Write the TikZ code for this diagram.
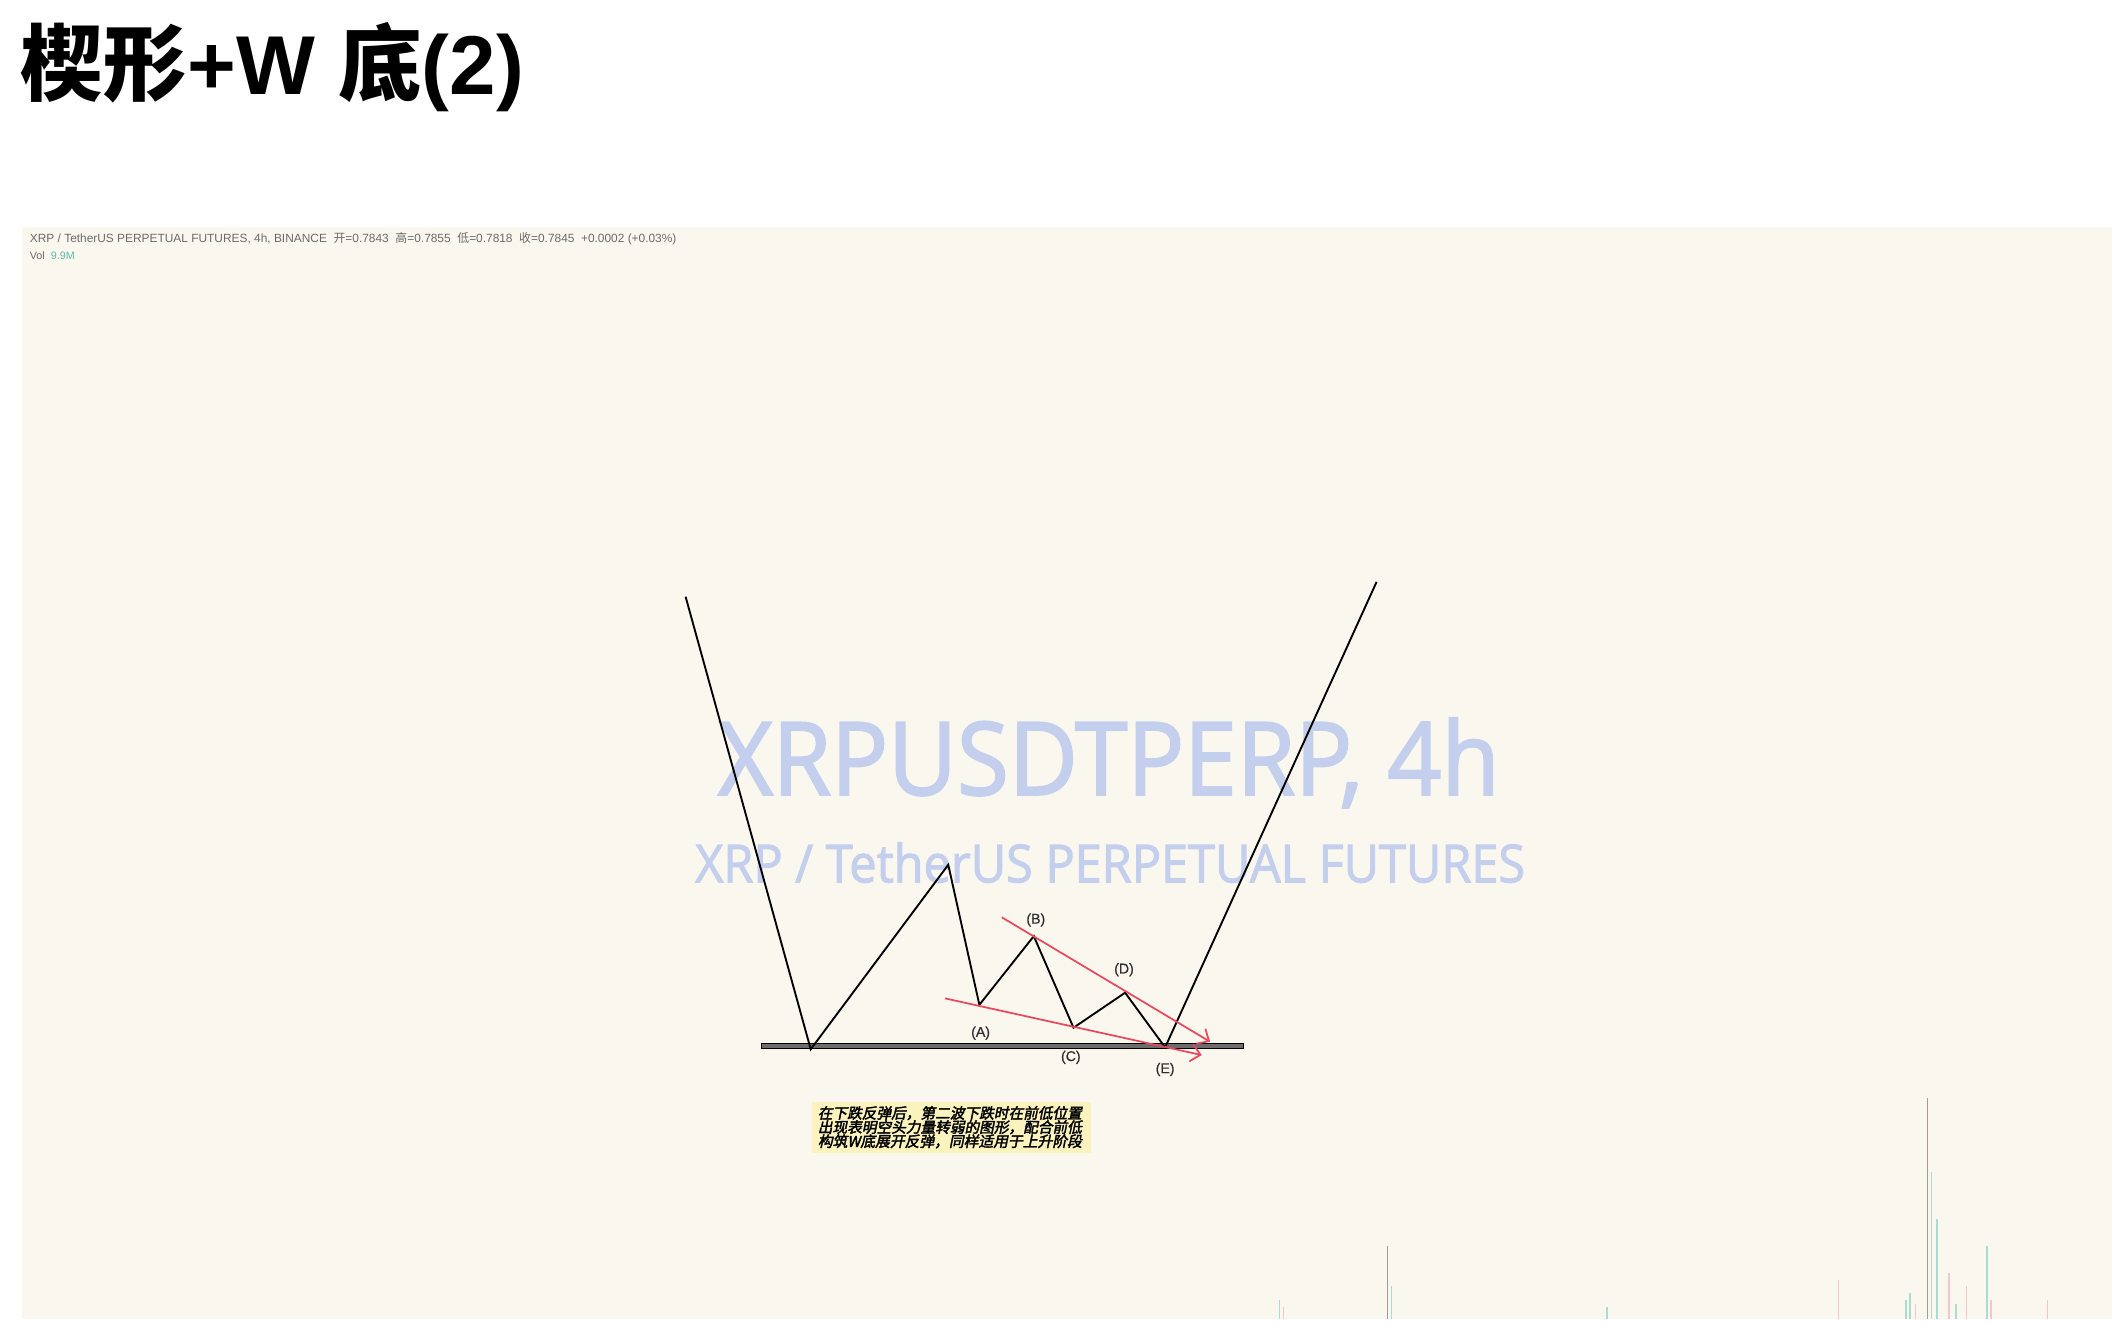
\documentclass[tikz,border=0pt]{standalone}
\usepackage{fontspec}
\usepackage{graphicx}
\usetikzlibrary{arrows.meta}
\setmainfont{Liberation Sans}
\newfontfamily\cjk{Noto Sans CJK SC}
\newfontfamily\cjkit{Noto Sans CJK SC}[FakeSlant=0.2,FakeBold=2.5]
\newfontfamily\wm{Open Sans}[FakeBold=2.2]
\newfontfamily\lblfont{Liberation Sans}[FakeBold=0.6]
\definecolor{chartbg}{HTML}{FAF8EE}
\definecolor{wmblue}{RGB}{196,207,238}
\definecolor{redl}{HTML}{E9485E}
\definecolor{notebg}{HTML}{FBF3BE}
\definecolor{hdrgray}{HTML}{6B6B6B}
\definecolor{volteal}{HTML}{A8DDD4}
\definecolor{volpink}{HTML}{F4C6CA}
\definecolor{voldark}{HTML}{A59A96}
\definecolor{lblgray}{HTML}{2E2E2E}
\tikzset{
  wave/.style={draw=black, line width=1.4pt, line join=miter},
  trend/.style={draw=redl, line width=1.3pt, -{Straight Barb[length=7pt,width=13pt]}},
  lbl/.style={font=\lblfont\fontsize{10.5}{10.5}\selectfont, text=lblgray, inner sep=0pt},
  vbar/.style={line width=1.1pt},
}
\begin{document}
\begin{tikzpicture}[x=1pt,y=-1pt]
\useasboundingbox (0,0) rectangle (1568,983);
\fill[white] (0,0) rectangle (1568,983);
\fill[chartbg] (16,168.5) rectangle (1568,979);

% title
\node[anchor=base west, inner sep=0pt] (title) at (15,70)
  {\fontsize{62}{62}\selectfont\bfseries{\cjk 楔形}+W {\cjk 底}(2)};

% header
\node[anchor=west, inner sep=0pt, text=hdrgray] (hdr1) at (22,177)
  {\resizebox{480pt}{!}{\fontsize{8}{8}\selectfont XRP / TetherUS PERPETUAL FUTURES, 4h, BINANCE\ \ {\cjk 开}=0.7843\ \ {\cjk 高}=0.7855\ \ {\cjk 低}=0.7818\ \ {\cjk 收}=0.7845\ \ +0.0002 (+0.03\%)}};
\node[anchor=west, inner sep=0pt, text=hdrgray] (hdr2) at (22,190)
  {\fontsize{8}{8}\selectfont Vol\ \ \textcolor{volteal!60!teal}{9.9M}};

% watermark
\node[anchor=base west, inner sep=0pt, text=wmblue] (wm1) at (533,590)
  {\resizebox{580pt}{57pt}{\wm XRPUSDTPERP, 4h}};
\node[anchor=base west, inner sep=0pt, text=wmblue] (wm2) at (516,655)
  {\resizebox{616pt}{29.5pt}{\wm XRP / TetherUS PERPETUAL FUTURES}};

% volume bars
\foreach \x/\t/\c in {950/965/volteal, 953/970/volpink, 1030/925/voldark, 1033/955/volteal,
  1193/970/volteal, 1365/950/volpink, 1415/965/volteal, 1418/960/volteal, 1422/968/volpink,
  1431/815/voldark, 1434/870/volteal, 1438/905/volteal, 1447/945/volpink, 1452/968/volteal,
  1460/955/volpink, 1475/925/volteal, 1478/965/volpink, 1520/965/volpink}
  \draw[vbar, draw=\c] (\x,979) -- (\x,\t);

% support bar
\node[draw=black, fill=gray!85!black, line width=0.7pt, minimum width=358pt, minimum height=4.2pt, inner sep=0pt] (bar) at (744.5,776.5) {};

% wave
\coordinate (L0) at (509,443);
\coordinate (W1) at (601.9,779);
\coordinate (P) at (704,642);
\coordinate (A) at (727.1,746);
\coordinate (B) at (767.5,695);
\coordinate (C) at (797,763);
\coordinate (D) at (835.3,737);
\coordinate (E) at (865,777.6);
\coordinate (R0) at (1022,432);
\draw[wave] (L0) -- (W1) -- (P) -- (A) -- (B) -- (C) -- (D) -- (E) -- (R0);

% trend lines
\coordinate (U0) at (743.7,681);
\coordinate (U1) at (898.4,773.4);
\coordinate (V0) at (701.6,741.2);
\coordinate (V1) at (892.2,783.3);
\draw[trend] (U0) -- (U1);
\draw[trend] (V0) -- (V1);

% labels
\node[lbl] (la) at (728,767) {(A)};
\node[lbl] (lb) at (769,683) {(B)};
\node[lbl] (lc) at (795,785) {(C)};
\node[lbl] (ld) at (834.5,720) {(D)};
\node[lbl] (le) at (865,794) {(E)};

% note
\fill[notebg] (603,818) rectangle (810,856);
\node[anchor=north west, inner sep=0pt, align=left] (note) at (607,821)
  {\resizebox{196pt}{!}{\cjkit 在下跌反弹后，第二波下跌时在前低位置}\\[-1.5pt]
   \resizebox{196pt}{!}{\cjkit 出现表明空头力量转弱的图形，配合前低}\\[-1.5pt]
   \resizebox{196pt}{!}{\cjkit 构筑W底展开反弹，同样适用于上升阶段}};
\end{tikzpicture}
\end{document}
